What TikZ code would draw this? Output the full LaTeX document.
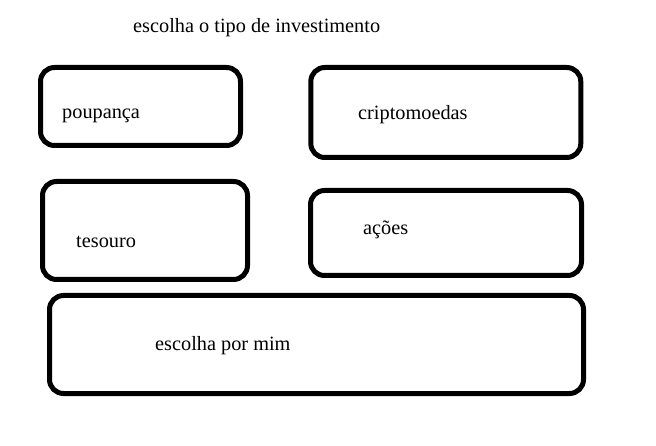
\documentclass[tikz,border=0pt]{standalone}
\usepackage{fontspec}
\setmainfont{Liberation Serif}
\usetikzlibrary{positioning}
\tikzstyle{choice} = [draw, line width=5pt, rounded corners=14pt, inner sep=0pt, outer sep=0pt]
\tikzstyle{lbl} = [anchor=base west, inner sep=0pt, font=\fontsize{20.3}{24}\selectfont]

\begin{document}
\begin{tikzpicture}[x=1pt, y=-1pt]
\useasboundingbox (0,0) rectangle (656,446);

\node[lbl] (title) at (133,33) {escolha o tipo de investimento};

\node[choice, minimum width=200pt, minimum height=78pt] (poup) at (140.5,106.5) {};
\node[choice, minimum width=270pt, minimum height=90pt] (cripto) at (445.8,112.5) {};
\node[choice, minimum width=205pt, minimum height=98pt] (tes) at (145,230.5) {};
\node[choice, minimum width=271pt, minimum height=85pt] (acoes) at (446,233) {};
\node[choice, minimum width=534pt, minimum height=98pt] (mim) at (316.5,344.5) {};

\node[lbl] (poup_t) at (62,119) {poupança};
\node[lbl] (cripto_t) at (358,120) {criptomoedas};
\node[lbl] (tes_t) at (76,247.5) {tesouro};
\node[lbl] (acoes_t) at (363,235) {ações};
\node[lbl] (mim_t) at (155,350) {escolha por mim};

\end{tikzpicture}
\end{document}
